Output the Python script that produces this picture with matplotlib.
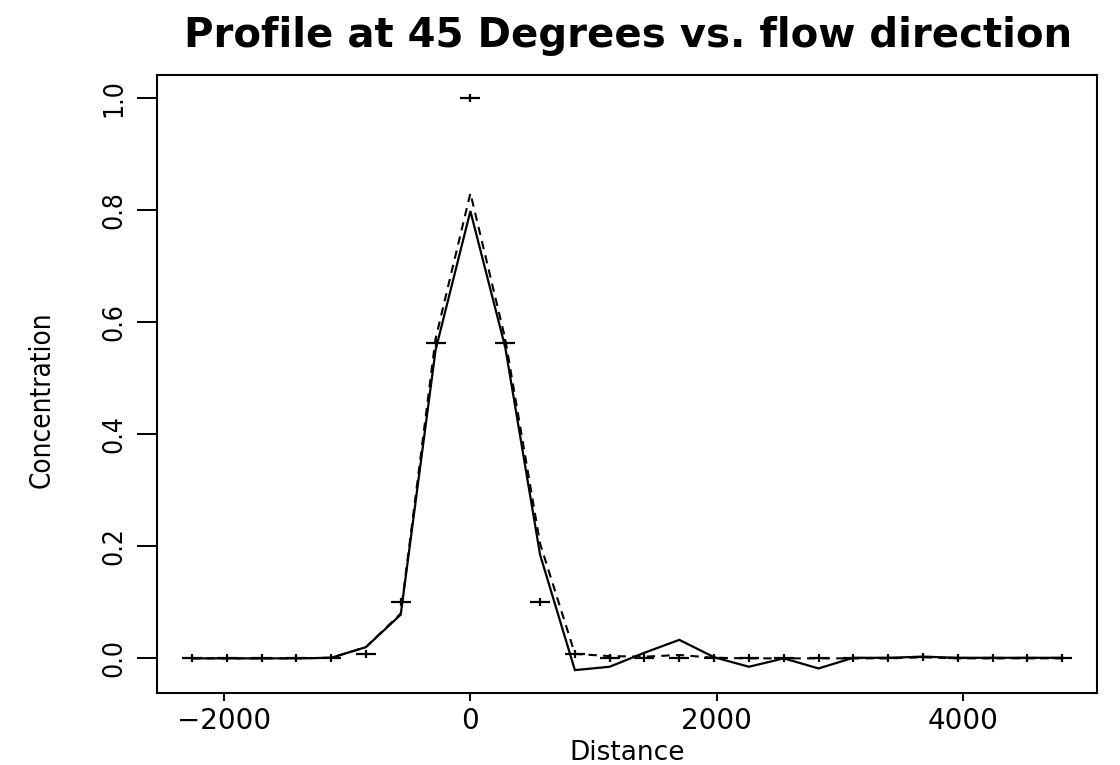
import matplotlib
matplotlib.use("Agg")
from matplotlib import pyplot as plt
from matplotlib import font_manager
from matplotlib.path import Path

# grid positions along the 45 degree profile
distance = [-2263, -1980, -1697, -1414, -1131, -849, -566, -283, 0, 283, 566, 849,
            1131, 1414, 1697, 1980, 2263, 2546, 2828, 3111, 3394, 3677, 3960, 4243,
            4525, 4808]

observed = [0, 0, 0, 0, 0, 0.008, 0.1, 0.5625, 1.0, 0.5625, 0.1, 0.008,
            0, 0, 0, 0, 0, 0, 0, 0, 0, 0.003, 0, 0, 0, 0]

fit_solid = [0, 0, 0, 0, 0.001, 0.02, 0.078, 0.55, 0.798, 0.555, 0.185, -0.021,
             -0.015, 0.01, 0.033, 0.002, -0.015, 0.0, -0.018, 0.001, 0.001, 0.003,
             0.001, 0.001, 0.001, 0.001]

fit_dashed = [0, 0, 0, 0, 0.001, 0.02, 0.08, 0.57, 0.83, 0.57, 0.205, 0.008,
              0.004, 0.003, 0.006, 0.001, 0.0, 0.0, 0.0, 0.0, 0.0, 0.002,
              0.0, 0.0, 0.0, 0.0]

x_ticks = [-2000, 0, 2000, 4000]
y_ticks = [0.0, 0.2, 0.4, 0.6, 0.8, 1.0]


def narrow_font():
    # pick a narrow face for the upright (rotated) labels if one is there
    fonts = font_manager.fontManager.ttflist
    names = {f.name for f in fonts}
    if "Liberation Sans Narrow" in names:
        return {"family": "Liberation Sans Narrow"}
    for f in fonts:
        if f.name == "DejaVu Sans" and "ondensed" in f.fname and f.weight in (400, "normal"):
            return {"family": "DejaVu Sans", "stretch": "condensed"}
    return {"family": "Liberation Sans"}


narrow = narrow_font()

# wide flat plus, the scan is stretched sideways
plus = Path([(-1, 0), (1, 0), (0, -0.42), (0, 0.42)],
            [Path.MOVETO, Path.LINETO, Path.MOVETO, Path.LINETO])

fig = plt.figure(figsize=(11.2, 7.65), dpi=100)
ax = fig.add_axes([0.1402, 0.0941, 0.8393, 0.8079])

ax.plot(distance, fit_solid, color="black", lw=1.6, solid_joinstyle="miter")
ax.plot(distance, fit_dashed, color="black", lw=1.5, linestyle=(0, (4, 3)))
ax.plot(distance, observed, linestyle="none", marker=plus, markersize=14,
        markeredgewidth=1.6, color="black")

span_x = max(distance) - min(distance)
ax.set_xlim(min(distance) - 0.04 * span_x, max(distance) + 0.04 * span_x)
span_y = max(observed) - min(fit_solid)
ax.set_ylim(min(fit_solid) - 0.04 * span_y, max(observed) + 0.04 * span_y)

ax.set_xticks(x_ticks)
ax.set_xticklabels([str(v).replace("-", "\u2212") for v in x_ticks],
                   fontsize=20, family="DejaVu Sans")
ax.set_yticks(y_ticks)
ax.set_yticklabels(["%.1f" % v for v in y_ticks], fontsize=19, rotation=90,
                   va="center", **narrow)

ax.tick_params(axis="x", length=6, width=1.4, pad=4)
ax.tick_params(axis="y", length=14.5, width=1.4, pad=7)
for side in ax.spines.values():
    side.set_linewidth(1.5)

ax.set_xlabel("Distance", fontsize=19, family="DejaVu Sans", labelpad=4)
ax.set_ylabel("Concentration", fontsize=20, **narrow)
ax.yaxis.set_label_coords(-0.108, 0.474)

fig.text(0.561, 0.953, "Profile at 45 Degrees vs. flow direction", ha="center",
         va="center", fontsize=29, fontweight="bold", family="DejaVu Sans")

fig.savefig("out.png", dpi=100)
